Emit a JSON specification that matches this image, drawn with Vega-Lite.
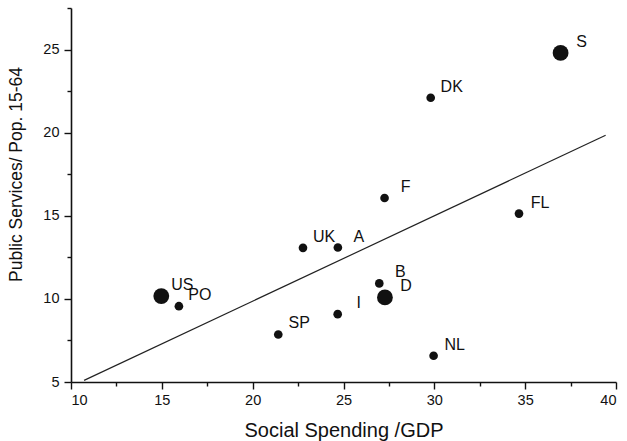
{
  "$schema": "https://vega.github.io/schema/vega-lite/v6.json",
  "width": 545,
  "height": 374,
  "autosize": {"type": "none"},
  "padding": {"left": 71, "top": 8, "right": 11, "bottom": 59},
  "background": "white",
  "config": {
    "view": {"stroke": null},
    "font": "Liberation Sans",
    "axis": {
      "grid": false,
      "domainColor": "#111",
      "domainWidth": 1.6,
      "tickColor": "#111",
      "tickWidth": 1.4,
      "labelFont": "Liberation Sans",
      "labelFontSize": 14.5,
      "labelColor": "#111",
      "titleFont": "Liberation Sans",
      "titleFontWeight": "normal",
      "titleColor": "#111"
    }
  },
  "datasets": {
    "countries": [
      {"country": "S", "spending": 36.95, "services": 24.8, "big": "yes"},
      {"country": "DK", "spending": 29.8, "services": 22.1, "big": "no"},
      {"country": "F", "spending": 27.26, "services": 16.07, "big": "no"},
      {"country": "FL", "spending": 34.66, "services": 15.13, "big": "no"},
      {"country": "UK", "spending": 22.77, "services": 13.07, "big": "no"},
      {"country": "A", "spending": 24.69, "services": 13.09, "big": "no"},
      {"country": "US", "spending": 14.97, "services": 10.17, "big": "yes"},
      {"country": "PO", "spending": 15.94, "services": 9.56, "big": "no"},
      {"country": "SP", "spending": 21.41, "services": 7.86, "big": "no"},
      {"country": "I", "spending": 24.68, "services": 9.08, "big": "no"},
      {"country": "B", "spending": 26.97, "services": 10.93, "big": "no"},
      {"country": "D", "spending": 27.28, "services": 10.09, "big": "yes"},
      {"country": "NL", "spending": 29.96, "services": 6.58, "big": "no"}
    ],
    "fit": [
      {"spending": 10.72, "services": 5.1},
      {"spending": 39.43, "services": 19.84}
    ]
  },
  "encoding": {
    "x": {
      "field": "spending",
      "type": "quantitative",
      "scale": {"domain": [10, 40], "nice": false, "zero": false},
      "axis": {
        "title": "Social Spending /GDP",
        "titleFontSize": 20,
        "values": [10, 12.5, 15, 17.5, 20, 22.5, 25, 27.5, 30, 32.5, 35, 37.5, 40],
        "labelExpr": "datum.value % 5 == 0 ? datum.label : ''",
        "tickSize": {"condition": {"test": "datum.value % 5 == 0", "value": 7}, "value": 4},
        "labelPadding": 4,
        "titleY": 54,
        "titleBaseline": "alphabetic"
      }
    },
    "y": {
      "field": "services",
      "type": "quantitative",
      "scale": {"domain": [5, 27.5], "nice": false, "zero": false},
      "axis": {
        "title": "Public Services/ Pop. 15-64",
        "titleFontSize": 17.5,
        "values": [5, 7.5, 10, 12.5, 15, 17.5, 20, 22.5, 25, 27.5],
        "labelExpr": "datum.value % 5 == 0 ? datum.label : ''",
        "tickSize": {"condition": {"test": "datum.value % 5 == 0", "value": 7}, "value": 4},
        "labelPadding": 5,
        "titleX": -46,
        "titleY": 166
      }
    }
  },
  "layer": [
    {
      "data": {"name": "fit"},
      "mark": {"type": "line", "color": "#222", "strokeWidth": 1.2}
    },
    {
      "data": {"name": "countries"},
      "mark": {"type": "circle", "color": "#111", "opacity": 1},
      "encoding": {
        "size": {
          "field": "big",
          "type": "nominal",
          "scale": {"domain": ["no", "yes"], "range": [75, 250]},
          "legend": null
        }
      }
    },
    {
      "data": {"name": "countries"},
      "mark": {"type": "text", "align": "center", "baseline": "middle", "dx": 21, "dy": -11, "fontSize": 16, "color": "#111", "font": "Liberation Sans"},
      "encoding": {"text": {"field": "country"}}
    }
  ]
}
